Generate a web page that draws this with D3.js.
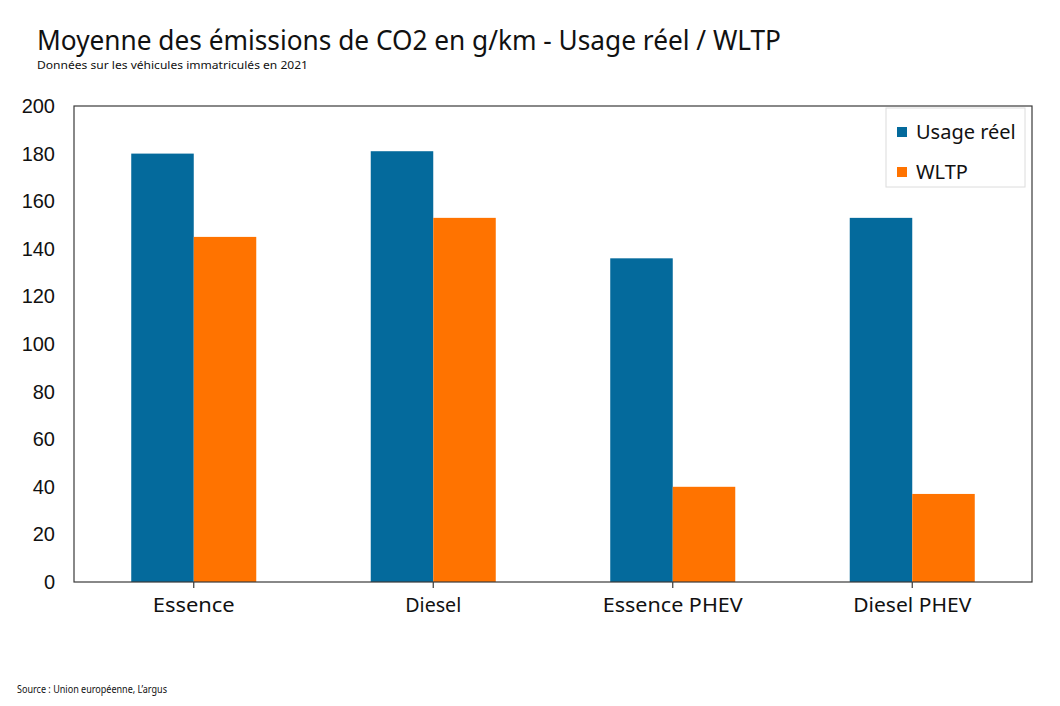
<!DOCTYPE html>
<html>
<head>
<meta charset="utf-8">
<script src="https://cdn.jsdelivr.net/npm/d3@7"></script>
<style>
  body { margin: 0; background: #fff; }
  svg { display: block; }
</style>
</head>
<body>
<div id="chart"></div>
<script>
'use strict';

// data
var categories = ['Essence', 'Diesel', 'Essence PHEV', 'Diesel PHEV'];
var seriesNames = ['Usage réel', 'WLTP'];
var usageReel = [180, 181, 136, 153];
var wltp = [145, 153, 40, 37];
var yTicks = [0, 20, 40, 60, 80, 100, 120, 140, 160, 180, 200];

var colours = ['#046a9c', '#ff7300'];
var labelFont = '"Liberation Sans", Arial, sans-serif';
var roundFont = '"Noto Sans", "DejaVu Sans", sans-serif';

var width = 1060, height = 706;
var plot = { left: 74, top: 106, right: 1032, bottom: 582 };

var svg = d3.select('#chart')
    .append('svg')
    .attr('width', width)
    .attr('height', height);

// titles
svg.append('text')
    .attr('x', 37).attr('y', 50)
    .attr('font-family', roundFont)
    .attr('font-size', 27)
    .attr('textLength', 744)
    .attr('lengthAdjust', 'spacingAndGlyphs')
    .attr('fill', '#111')
    .text('Moyenne des émissions de CO2 en g/km - Usage réel / WLTP');

svg.append('text')
    .attr('x', 37).attr('y', 69)
    .attr('font-family', roundFont)
    .attr('font-size', 11)
    .attr('textLength', 271)
    .attr('lengthAdjust', 'spacingAndGlyphs')
    .attr('fill', '#111')
    .text('Données sur les véhicules immatriculés en 2021');

svg.append('text')
    .attr('x', 17).attr('y', 693)
    .attr('font-family', roundFont)
    .attr('font-size', 10)
    .attr('textLength', 150)
    .attr('lengthAdjust', 'spacingAndGlyphs')
    .attr('fill', '#111')
    .text('Source : Union européenne, L\u2019argus');

// scales
var xScale = d3.scaleBand()
    .domain(categories)
    .range([plot.left, plot.right])
    .paddingInner(0.478)
    .paddingOuter(0.239);

var xSub = d3.scaleBand()
    .domain(seriesNames)
    .range([0, xScale.bandwidth()]);

var yScale = d3.scaleLinear()
    .domain([0, 200])
    .range([plot.bottom, plot.top]);

// bars
var rows = categories.map(function (c, i) {
    return { cat: c, values: [usageReel[i], wltp[i]] };
});

var groups = svg.append('g').attr('class', 'bars')
    .selectAll('g')
    .data(rows)
    .enter()
    .append('g')
    .attr('transform', function (d) { return 'translate(' + xScale(d.cat) + ',0)'; });

groups.selectAll('rect')
    .data(function (d) {
        return d.values.map(function (v, j) { return { name: seriesNames[j], value: v, idx: j }; });
    })
    .enter()
    .append('rect')
    .attr('x', function (d) { return xSub(d.name); })
    .attr('y', function (d) { return yScale(d.value); })
    .attr('width', xSub.bandwidth())
    .attr('height', function (d) { return yScale(0) - yScale(d.value); })
    .attr('fill', function (d) { return colours[d.idx]; });

// plot frame
svg.append('rect')
    .attr('x', plot.left).attr('y', plot.top)
    .attr('width', plot.right - plot.left)
    .attr('height', plot.bottom - plot.top)
    .attr('fill', 'none')
    .attr('stroke', '#3a3a3a')
    .attr('stroke-width', 1.2);

// y axis
var yAxis = d3.axisLeft(yScale)
    .tickValues(yTicks)
    .tickSize(0)
    .tickPadding(19);

var yG = svg.append('g')
    .attr('class', 'y-axis')
    .attr('transform', 'translate(' + plot.left + ',0)')
    .call(yAxis);
yG.select('.domain').remove();
yG.selectAll('text')
    .attr('font-family', labelFont)
    .attr('font-size', 20)
    .attr('fill', '#111');

// x axis
var xAxis = d3.axisBottom(xScale)
    .tickSize(6)
    .tickPadding(10);

var xG = svg.append('g')
    .attr('class', 'x-axis')
    .attr('transform', 'translate(0,' + plot.bottom + ')')
    .call(xAxis);
xG.select('.domain').remove();
xG.selectAll('line').attr('stroke', '#3a3a3a').attr('stroke-width', 1.2);
xG.selectAll('text')
    .attr('font-family', roundFont)
    .attr('font-size', 20)
    .attr('fill', '#111')
    .attr('textLength', function (d) { return { 'Essence': 82, 'Diesel': 56, 'Essence PHEV': 140, 'Diesel PHEV': 118 }[d]; })
    .attr('lengthAdjust', 'spacingAndGlyphs');

// legend
var legend = svg.append('g')
    .attr('class', 'legend')
    .attr('transform', 'translate(886,108)');

legend.append('rect')
    .attr('width', 139).attr('height', 79)
    .attr('fill', '#fff')
    .attr('stroke', '#dcdcdc');

var items = legend.selectAll('.item')
    .data(seriesNames)
    .enter()
    .append('g')
    .attr('class', 'item')
    .attr('transform', function (d, i) { return 'translate(11,' + (19 + i * 40) + ')'; });

items.append('rect')
    .attr('width', 10).attr('height', 10)
    .attr('fill', function (d, i) { return colours[i]; });

items.append('text')
    .attr('x', 19).attr('y', 5)
    .attr('dy', '0.35em')
    .attr('font-family', roundFont)
    .attr('font-size', 20)
    .attr('fill', '#111')
    .text(function (d) { return d; });
</script>
</body>
</html>
